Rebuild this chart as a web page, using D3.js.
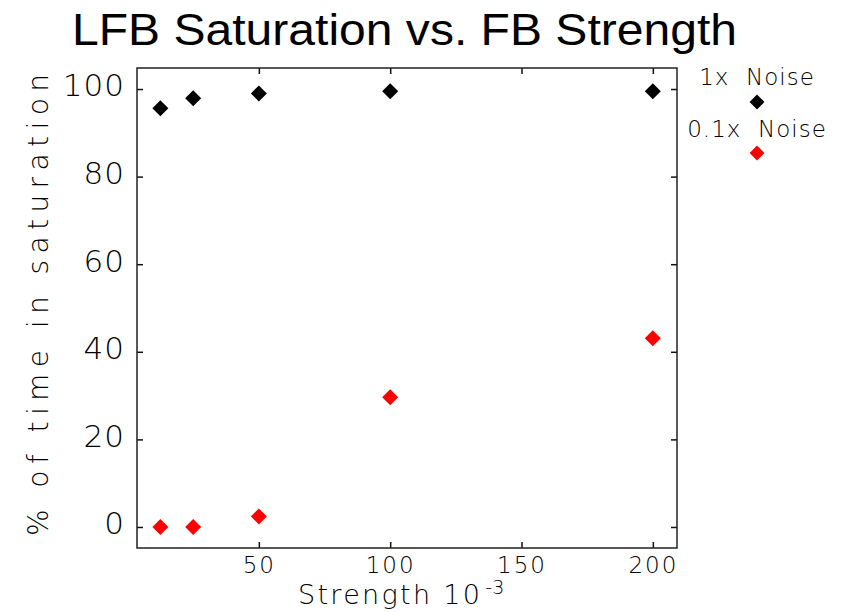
<!DOCTYPE html>
<html>
<head>
<meta charset="utf-8">
<script src="https://cdn.jsdelivr.net/npm/d3@7"></script>
<style>
  html, body { margin: 0; padding: 0; background: #fff; }
  svg { display: block; }
  .hershey { font-family: "DejaVu Sans", sans-serif; font-weight: 200; fill: #000; }
</style>
</head>
<body>
<svg id="chart" width="842" height="612"></svg>
<script>
// Feedback strength (x 10^-3) at which saturation was measured
const strengths = [12.5, 25, 50, 100, 200];
// Percent of time the LFB spends in saturation
const noise1x = [95.6, 97.9, 99.0, 99.5, 99.5];
const noise01x = [0.0, 0.0, 2.4, 29.6, 43.1];

const xTicks = [50, 100, 150, 200];
const yTicks = [0, 20, 40, 60, 80, 100];
const seriesNames = ["1x  Noise", "0.1x  Noise"];
const seriesColors = ["#000000", "#ff0000"];

const svg = d3.select("#chart");
const margin = { left: 137, right: 165, top: 68, bottom: 64 };
const W = 842, H = 612;
const innerW = W - margin.left - margin.right;
const innerH = H - margin.top - margin.bottom;

const x = d3.scaleLinear().domain([3.6, 209.2]).range([margin.left, margin.left + innerW]);
const y = d3.scaleLinear().domain([-4.8, 104.8]).range([margin.top + innerH, margin.top]);

// Title
svg.append("text")
  .attr("x", 72).attr("y", 45)
  .attr("textLength", 665).attr("lengthAdjust", "spacingAndGlyphs")
  .style("font-family", "'Liberation Sans', Arial, sans-serif")
  .style("font-size", "44px")
  .text("LFB Saturation vs. FB Strength");

// Axes with inward ticks on all four sides
const tickLen = 6;
const gBottom = svg.append("g")
  .attr("transform", `translate(0,${margin.top + innerH})`)
  .call(d3.axisBottom(x).tickValues(xTicks).tickSize(-tickLen).tickPadding(9));
const gTop = svg.append("g")
  .attr("transform", `translate(0,${margin.top})`)
  .call(d3.axisTop(x).tickValues(xTicks).tickSize(-tickLen).tickFormat(""));
const gLeft = svg.append("g")
  .attr("transform", `translate(${margin.left},0)`)
  .call(d3.axisLeft(y).tickValues(yTicks).tickSize(-tickLen).tickPadding(12));
const gRight = svg.append("g")
  .attr("transform", `translate(${margin.left + innerW},0)`)
  .call(d3.axisRight(y).tickValues(yTicks).tickSize(-tickLen).tickFormat(""));

[gBottom, gTop, gLeft, gRight].forEach(g => {
  g.select(".domain").remove();
  g.selectAll(".tick line").attr("stroke", "#111").attr("stroke-width", 1.5);
  g.selectAll("text").attr("class", "hershey").attr("fill", "#000");
});
gBottom.selectAll("text").style("font-size", "23px").style("letter-spacing", "2px");
gLeft.selectAll("text").style("font-size", "31px").style("letter-spacing", "1px").attr("dy", "0.22em");

// Frame
svg.append("rect")
  .attr("x", margin.left).attr("y", margin.top)
  .attr("width", innerW).attr("height", innerH)
  .attr("fill", "none").attr("stroke", "#222").attr("stroke-width", 1.5);

// Axis titles
const xTitle = svg.append("text")
  .attr("class", "hershey")
  .attr("x", 298).attr("y", 604)
  .style("font-size", "27px");
xTitle.append("tspan").text("Strength 10").attr("textLength", 182).attr("lengthAdjust", "spacing");
xTitle.append("tspan").text("-3").attr("dy", -10).style("font-size", "19px").attr("dx", 3);

svg.append("text")
  .attr("class", "hershey")
  .attr("transform", "translate(48,536) rotate(-90)")
  .attr("textLength", 462).attr("lengthAdjust", "spacing")
  .style("font-size", "28px")
  .text("% of time in saturation");

// Diamond markers
const diamond = d3.symbol(d3.symbolSquare, 128);
const series = [noise1x, noise01x];
series.forEach((vals, i) => {
  svg.append("g").selectAll("path")
    .data(vals)
    .join("path")
    .attr("d", diamond)
    .attr("transform", (d, j) => `translate(${x(strengths[j])},${y(d)}) rotate(45)`)
    .attr("fill", seriesColors[i]);
});

// Legend
const legendX = 757;
const legendRows = [{ textY: 85, markY: 102 }, { textY: 137, markY: 153 }];
seriesNames.forEach((name, i) => {
  svg.append("text")
    .attr("class", "hershey")
    .attr("x", legendX).attr("y", legendRows[i].textY)
    .attr("text-anchor", "middle")
    .style("font-size", "23px").style("letter-spacing", "1px")
    .style("white-space", "pre")
    .text(name);
  svg.append("path")
    .attr("d", d3.symbol(d3.symbolSquare, 110))
    .attr("transform", `translate(${legendX},${legendRows[i].markY}) rotate(45)`)
    .attr("fill", seriesColors[i]);
});
</script>
</body>
</html>
